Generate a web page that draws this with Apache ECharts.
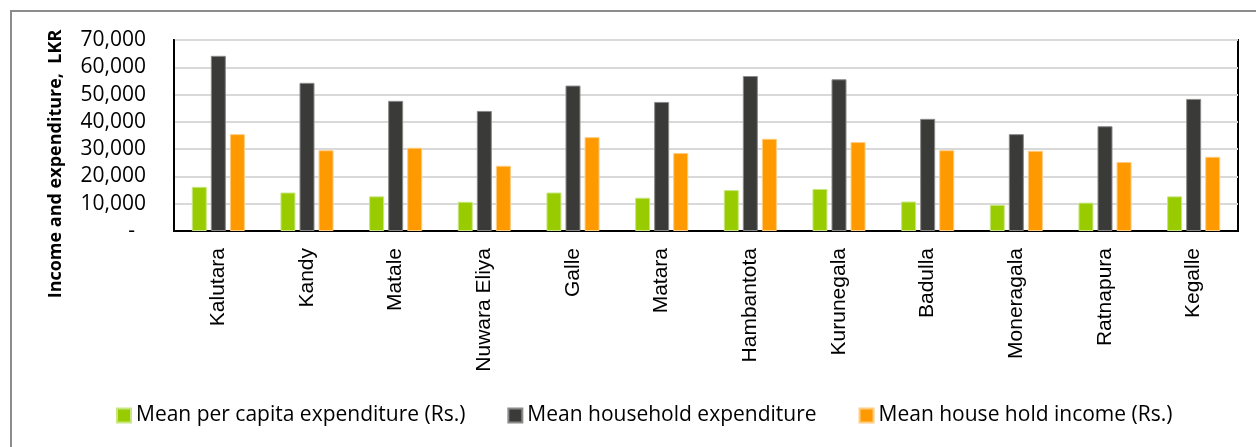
<!DOCTYPE html>
<html>
<head>
<meta charset="utf-8">
<script src="https://cdn.jsdelivr.net/npm/echarts@6/dist/echarts.min.js"></script>
<style>
html,body{margin:0;padding:0;background:#fff;}
#chart{width:1256px;height:447px;}
</style>
</head>
<body>
<div id="chart"></div>
<script>
const categories = ['Kalutara','Kandy','Matale','Nuwara Eliya','Galle','Matara','Hambantota','Kurunegala','Badulla','Moneragala','Ratnapura','Kegalle'];
const perCapitaExp = [16200,14100,12700,10700,14100,12200,15000,15400,10800,9600,10400,12700];
const householdExp = [64200,54300,47700,44000,53300,47300,56800,55600,41100,35500,38400,48400];
const householdInc = [35500,29600,30500,23900,34400,28600,33800,32600,29600,29400,25300,27200];
const seriesNames = ['Mean per capita expenditure (Rs.)','Mean household expenditure','Mean house hold income (Rs.)'];
const yTitle = 'Income and expenditure,  LKR';

const chart = echarts.init(document.getElementById('chart'));
const colors = ['#99CC00','#3A3A38','#FF9900'];
const borders = ['#C8E680','#8A8A88','#FFCC80'];
const data = [perCapitaExp, householdExp, householdInc];

chart.setOption({
  animation:false,
  color: colors,
  grid:{left:174,right:18,top:40,bottom:216,show:true,borderColor:'#000',borderWidth:2,containLabel:false},
  legend:{
    left:116, top:405, itemWidth:14, itemHeight:14, itemGap:42, padding:0,
    icon:'rect',
    textStyle:{fontFamily:'Open Sans',fontSize:21,color:'#000'},
    data: seriesNames
  },
  xAxis:{
    type:'category', data:categories,
    axisLine:{lineStyle:{color:'#000',width:2}},
    axisTick:{show:false},
    axisLabel:{rotate:90,margin:17,fontFamily:'Liberation Sans',fontSize:21,color:'#000',interval:0}
  },
  yAxis:{
    type:'value', min:0, max:70000, interval:10000,
    axisLine:{show:true,lineStyle:{color:'#000',width:2}},
    axisTick:{show:false},
    splitLine:{lineStyle:{color:'#D9D9D9',width:2}},
    axisLabel:{margin:28,fontFamily:'Open Sans',fontSize:21,color:'#000',
      formatter:function(v){return v===0?'-  ':v.toLocaleString('en-US');}}
  },
  graphic:[
    {type:'rect',shape:{x:11,y:11,width:1300,height:500},style:{fill:'none',stroke:'#8C8C8C',lineWidth:2},silent:true},
    {type:'text',x:56,y:164,rotation:Math.PI/2,style:{text:yTitle,fontFamily:'Open Sans',fontWeight:'bold',fontSize:18,fill:'#000',align:'center',verticalAlign:'middle'}}
  ],
  series: seriesNames.map((n,i)=>({
    name:n, type:'bar', data:data[i], barWidth:15, barGap:'27%',
    itemStyle:{color:colors[i],borderColor:borders[i],borderWidth:1}
  }))
});
</script>
</body>
</html>
